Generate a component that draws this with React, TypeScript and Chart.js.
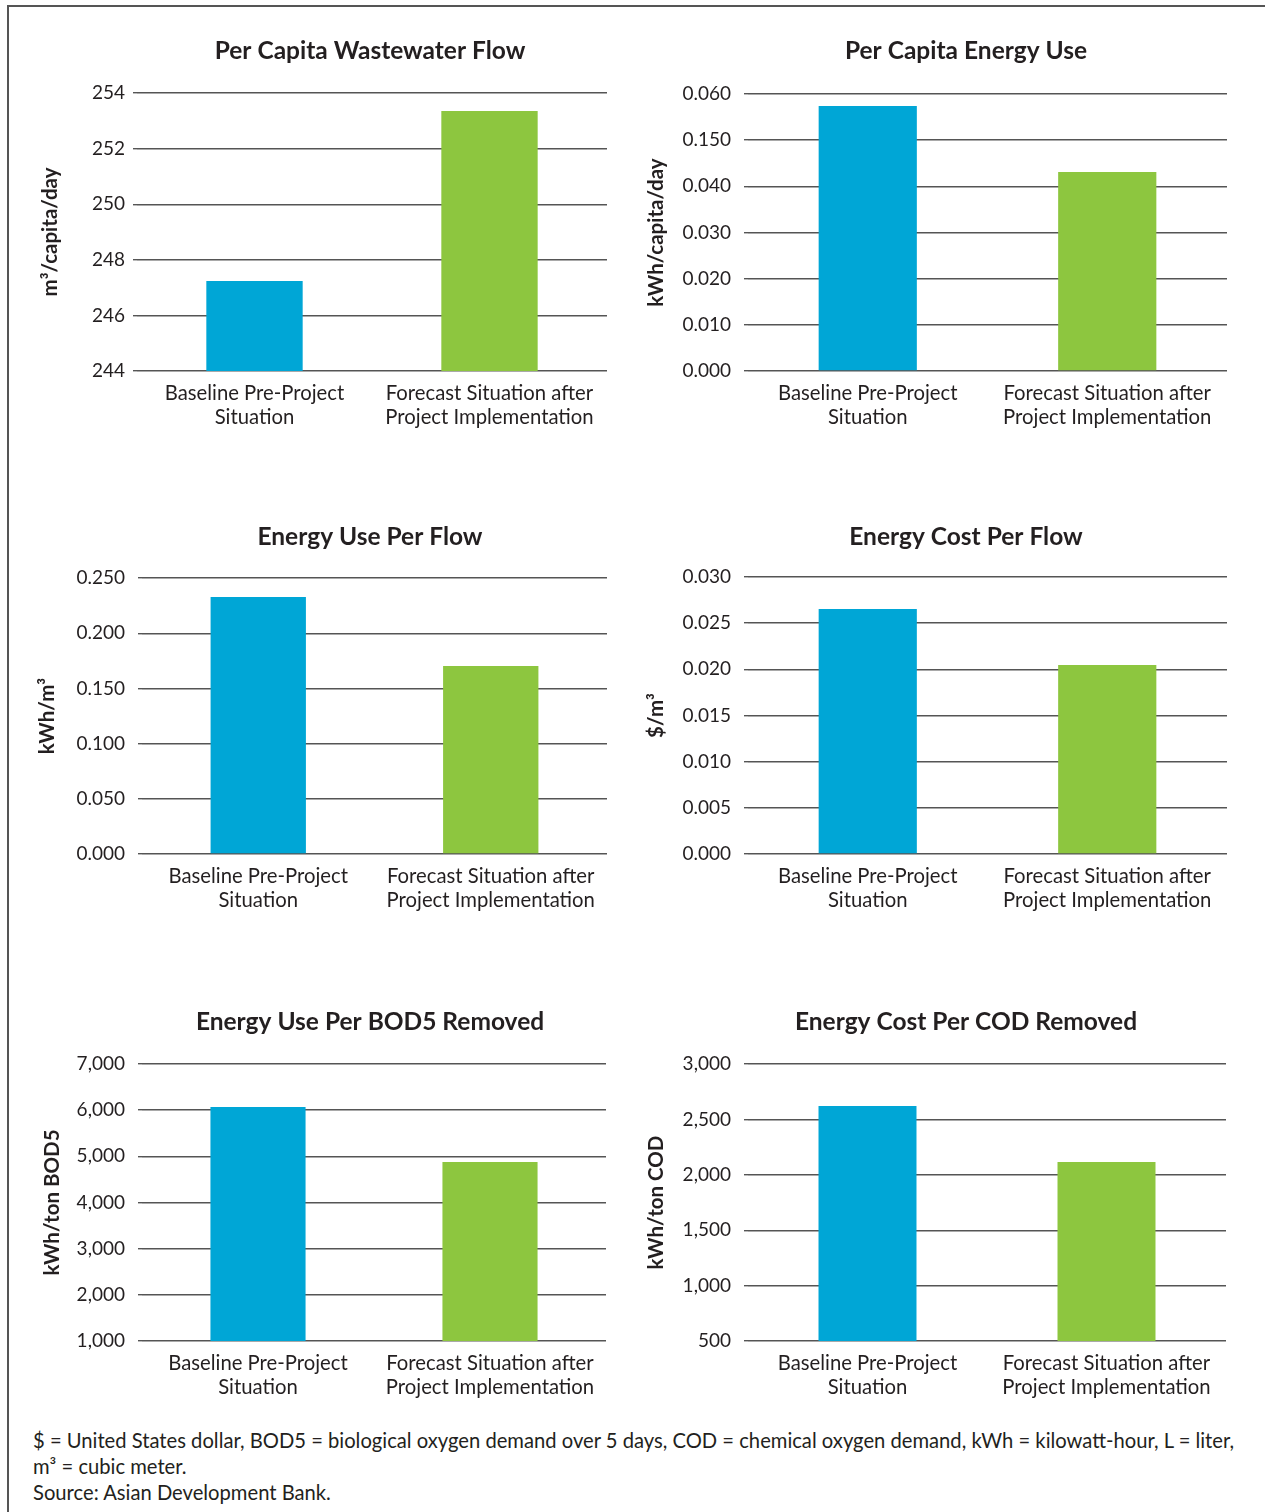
import React, { useEffect, useRef } from 'react';
import { Chart, registerables } from 'chart.js';

Chart.register(...registerables);

// Shared category labels (two-line tick labels on each x axis)
const categories = [
  ['Baseline Pre-Project', 'Situation'],
  ['Forecast Situation after', 'Project Implementation'],
];

const barColors = ['#00A6D6', '#8DC63F'];

// Per Capita Wastewater Flow (m³/capita/day)
const wastewaterFlow = [247.24, 253.35];
const wastewaterTicks = ['244', '246', '248', '250', '252', '254'];

// Per Capita Energy Use (kWh/capita/day)
const energyUse = [0.0574, 0.0431];
const energyUseTicks = ['0.000', '0.010', '0.020', '0.030', '0.040', '0.150', '0.060'];

// Energy Use Per Flow (kWh/m³)
const energyPerFlow = [0.2328, 0.1703];
const energyPerFlowTicks = ['0.000', '0.050', '0.100', '0.150', '0.200', '0.250'];

// Energy Cost Per Flow ($/m³)
const costPerFlow = [0.02653, 0.02047];
const costPerFlowTicks = ['0.000', '0.005', '0.010', '0.015', '0.020', '0.025', '0.030'];

// Energy Use Per BOD5 Removed (kWh/ton BOD5)
const energyPerBod = [6069, 4877];
const energyPerBodTicks = ['1,000', '2,000', '3,000', '4,000', '5,000', '6,000', '7,000'];

// Energy Cost Per COD Removed (kWh/ton COD)
const costPerCod = [2621, 2115];
const costPerCodTicks = ['500', '1,000', '1,500', '2,000', '2,500', '3,000'];

const TEXT = '#231F20';
const GRID = '#555555';
const FONT = 'Lato, "Open Sans", sans-serif';

type Frame = {
  x: number; // canvas left
  y: number; // canvas top
  w: number; // canvas width
  plotLeft: number;
  plotRight: number;
  plotTop: number;
  plotBottom: number;
  tickPad: number;
  yTitleX: number;
};

type PanelProps = {
  title: string;
  yTitle: string;
  values: number[];
  tickLabels: string[];
  min: number;
  max: number;
  step: number;
  frame: Frame;
};

const TITLE_SIZE = 24.5;
const YTITLE_SIZE = 20.5;
const XAXIS_H = 70;
const TICK_LEN = 4;

function Panel({ title, yTitle, values, tickLabels, min, max, step, frame }: PanelProps) {
  const ref = useRef<HTMLCanvasElement | null>(null);
  const height = frame.plotBottom - frame.y + XAXIS_H;

  useEffect(() => {
    if (!ref.current) return;
    const titleLine = TITLE_SIZE * 1.2;
    const titleTop = 36 - titleLine / 2;
    const titleBottom = frame.plotTop - frame.y - titleTop - titleLine;
    const yTitleLine = YTITLE_SIZE * 1.2;
    const chart = new Chart(ref.current, {
      type: 'bar',
      data: {
        labels: categories,
        datasets: [
          {
            data: values,
            backgroundColor: barColors,
            barPercentage: 0.41,
            categoryPercentage: 1,
          },
        ],
      },
      options: {
        responsive: false,
        animation: false,
        devicePixelRatio: 1,
        layout: { padding: 0 },
        plugins: {
          legend: { display: false },
          tooltip: { enabled: false },
          title: {
            display: true,
            text: title,
            color: TEXT,
            font: { family: FONT, size: TITLE_SIZE, weight: 'bold' },
            padding: { top: titleTop, bottom: titleBottom },
          },
        },
        scales: {
          x: {
            grid: { display: false },
            border: { display: false },
            ticks: {
              color: TEXT,
              font: { family: FONT, size: 20.3 },
              padding: 2,
              maxRotation: 0,
              autoSkip: false,
            },
            afterFit: (s: any) => {
              s.height = XAXIS_H;
            },
          },
          y: {
            min,
            max,
            ticks: {
              stepSize: step,
              color: TEXT,
              font: { family: FONT, size: 19 },
              padding: frame.tickPad,
              callback: (_v: any, i: number) => tickLabels[i],
            },
            grid: { color: GRID, lineWidth: 1.4, drawTicks: true, tickLength: TICK_LEN, tickColor: GRID },
            border: { display: false },
            title: {
              display: true,
              text: yTitle,
              color: TEXT,
              font: { family: FONT, size: YTITLE_SIZE, weight: 'bold' },
              padding: { top: frame.yTitleX - frame.x - yTitleLine / 2, bottom: 0 },
            },
            afterFit: (s: any) => {
              s.width = frame.plotLeft - frame.x;
            },
          },
          yRight: {
            position: 'right',
            display: true,
            grid: { display: false },
            ticks: { display: false },
            border: { display: false },
            afterFit: (s: any) => {
              s.width = frame.x + frame.w - frame.plotRight;
            },
          },
        },
      } as any,
    });
    return () => chart.destroy();
  }, []);

  return (
    <canvas
      ref={ref}
      width={frame.w}
      height={height}
      style={{ position: 'absolute', left: frame.x, top: frame.y, display: 'block' }}
    />
  );
}

// Left column titles centre on x=370, right column on x=966.
// gridStart is where the tick mark begins; the plot area starts TICK_LEN further right.
const leftFrame = (titleY: number, plotTop: number, plotBottom: number, gridStart: number, yTitleX: number, plotRight = 607): Frame => ({
  x: 20,
  y: titleY - 35,
  w: 700,
  plotLeft: gridStart + TICK_LEN,
  plotRight,
  plotTop,
  plotBottom,
  tickPad: gridStart - 125,
  yTitleX,
});

const rightFrame = (titleY: number, plotTop: number, plotBottom: number, plotRight = 1227): Frame => ({
  x: 626,
  y: titleY - 35,
  w: 680,
  plotLeft: 744 + TICK_LEN,
  plotRight,
  plotTop,
  plotBottom,
  tickPad: 13,
  yTitleX: 656,
});

export default function App() {
  return (
    <div
      style={{
        position: 'absolute',
        left: 0,
        top: 0,
        width: 1265,
        height: 1512,
        overflow: 'hidden',
        background: '#ffffff',
      }}
    >
      <div
        style={{
          position: 'absolute',
          left: 7,
          top: 5,
          right: -10,
          bottom: -10,
          borderTop: '2px solid #555',
          borderLeft: '2px solid #555',
        }}
      />
      <Panel
        title="Per Capita Wastewater Flow"
        yTitle="m³/capita/day"
        values={wastewaterFlow}
        tickLabels={wastewaterTicks}
        min={244}
        max={254}
        step={2}
        frame={leftFrame(50, 93, 371, 133, 50)}
      />
      <Panel
        title="Per Capita Energy Use"
        yTitle="kWh/capita/day"
        values={energyUse}
        tickLabels={energyUseTicks}
        min={0}
        max={0.06}
        step={0.01}
        frame={rightFrame(50, 94, 371)}
      />
      <Panel
        title="Energy Use Per Flow"
        yTitle="kWh/m³"
        values={energyPerFlow}
        tickLabels={energyPerFlowTicks}
        min={0}
        max={0.25}
        step={0.05}
        frame={leftFrame(536, 578, 854, 138, 47)}
      />
      <Panel
        title="Energy Cost Per Flow"
        yTitle="$/m³"
        values={costPerFlow}
        tickLabels={costPerFlowTicks}
        min={0}
        max={0.03}
        step={0.005}
        frame={rightFrame(536, 577, 854)}
      />
      <Panel
        title="Energy Use Per BOD5 Removed"
        yTitle="kWh/ton BOD5"
        values={energyPerBod}
        tickLabels={energyPerBodTicks}
        min={1000}
        max={7000}
        step={1000}
        frame={leftFrame(1021, 1064, 1341, 138, 52, 606)}
      />
      <Panel
        title="Energy Cost Per COD Removed"
        yTitle="kWh/ton COD"
        values={costPerCod}
        tickLabels={costPerCodTicks}
        min={500}
        max={3000}
        step={500}
        frame={rightFrame(1021, 1064, 1341, 1226)}
      />
      <div
        style={{
          position: 'absolute',
          left: 33,
          top: 1427,
          width: 1230,
          fontFamily: FONT,
          fontSize: 20.2,
          lineHeight: '26px',
          color: TEXT,
          whiteSpace: 'nowrap',
        }}
      >
        <div>
          $ = United States dollar, BOD5 = biological oxygen demand over 5 days, COD = chemical oxygen demand, kWh =
          kilowatt-hour, L = liter,
        </div>
        <div>m³ = cubic meter.</div>
        <div>Source: Asian Development Bank.</div>
      </div>
    </div>
  );
}
